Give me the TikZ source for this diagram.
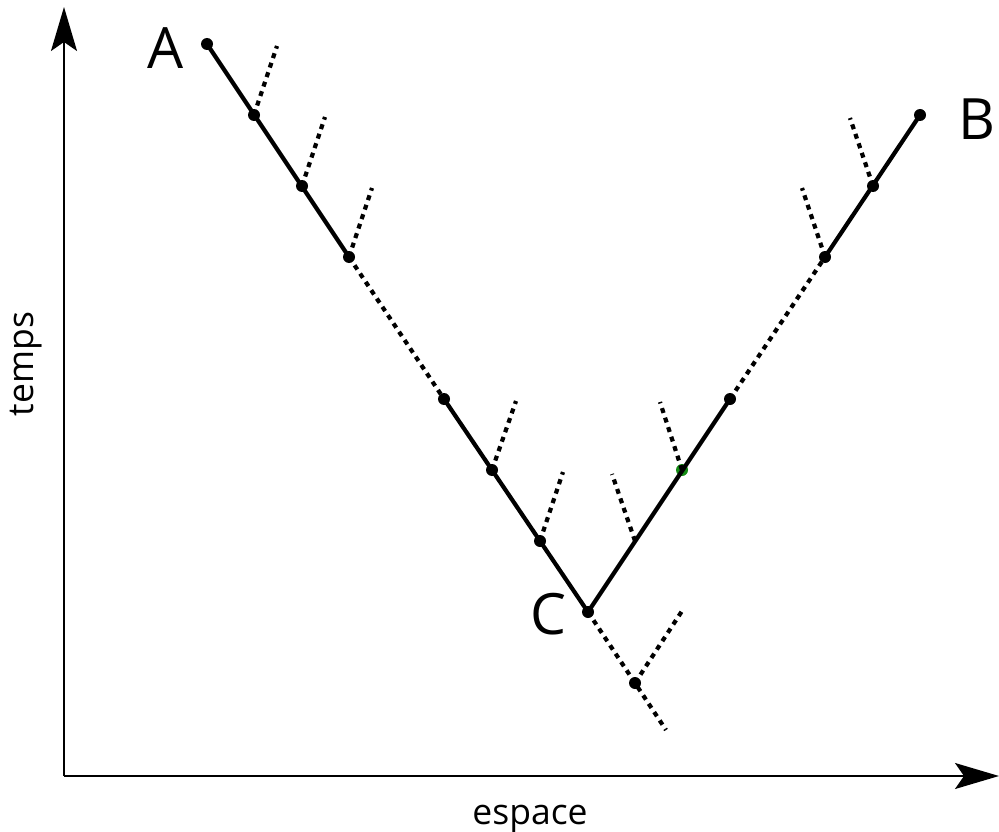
\documentclass[tikz,border=0pt]{standalone}
\usepackage{fontspec}
\setmainfont{Open Sans}
\usetikzlibrary{arrows.meta}
\begin{document}
\begin{tikzpicture}[x=1pt,y=-1pt,
  axis/.style={line width=1.6pt,-{Stealth[length=44pt,width=26pt,inset=9pt]}},
  solidseg/.style={line width=4.2pt},
  dotseg/.style={line width=4.2pt,dash pattern=on 5pt off 5pt},
  dotpt/.style={circle,fill=black,inner sep=0pt,minimum size=12pt},
  bigl/.style={font=\fontsize{57}{60}\selectfont,inner sep=0pt},
  axl/.style={font=\fontsize{35.5}{40}\selectfont,inner sep=0pt}]
\useasboundingbox (0,0) rectangle (999,832);
% axes
\coordinate (O) at (64,776);
\coordinate (Ytop) at (64,7);
\coordinate (Xend) at (999,776);
\draw[axis] (O) -- (Ytop);
\draw[axis] (O) -- (Xend);
% points
\coordinate (A) at (207,44);
\coordinate (L1) at (254,115);
\coordinate (L2) at (302,186);
\coordinate (L3) at (349,257);
\coordinate (L4) at (444,399);
\coordinate (L5) at (492,470);
\coordinate (L6) at (540,541);
\coordinate (C) at (588,612);
\coordinate (R1) at (635,541);
\coordinate (R2) at (682,470);
\coordinate (R3) at (730,399);
\coordinate (R4) at (825,257);
\coordinate (R5) at (873,186);
\coordinate (B) at (920,115);
\coordinate (D) at (635,683);
\coordinate (E) at (666,730);
% branch ends
\coordinate (L1e) at (277,46);
\coordinate (L2e) at (325,117);
\coordinate (L3e) at (372,188);
\coordinate (L5e) at (516,401);
\coordinate (L6e) at (563,472);
\coordinate (R1e) at (612,474);
\coordinate (R2e) at (660,402);
\coordinate (R4e) at (802,188);
\coordinate (R5e) at (850,118);
\coordinate (De) at (682,611);
% green dot under line
\node[dotpt,fill={rgb,255:red,20;green,140;blue,20}] (g) at (R2) {};
% main path
\draw[solidseg] (A) -- (L3);
\draw[dotseg] (L3) -- (L4);
\draw[solidseg] (L4) -- (C) -- (R3);
\draw[dotseg] (R3) -- (R4);
\draw[solidseg] (R4) -- (B);
\draw[dotseg] (C) -- (D) -- (E);
\draw[dotseg] (D) -- (De);
% branches
\foreach \p in {L1,L2,L3,L5,L6,R1,R2,R4,R5}
  \draw[dotseg] (\p) -- (\p e);
% dots
\foreach \p in {A,L1,L2,L3,L4,L5,L6,C,R3,R4,R5,B,D}
  \node[dotpt] at (\p) {};
% labels
\node[bigl] (la) at (166,48) {A};
\node[bigl] (lb) at (977,119) {B};
\node[bigl] (lc) at (548,614) {C};
\node[axl,anchor=base] (lx) at (530,824) {espace};
\node[axl,anchor=base,rotate=90] (ly) at (34,364) {temps};
\end{tikzpicture}
\end{document}
